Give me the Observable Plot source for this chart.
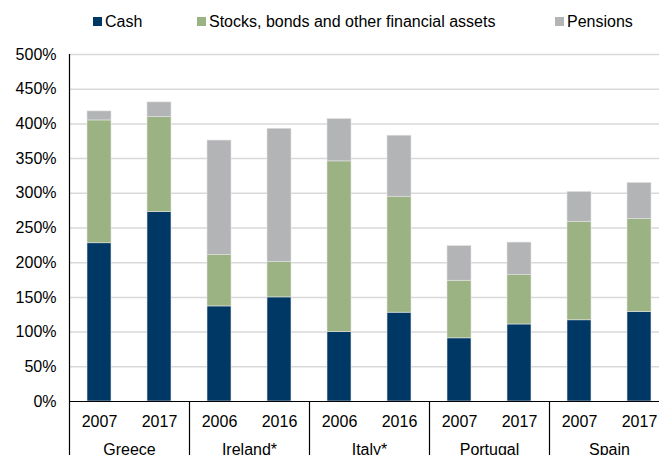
<!DOCTYPE html>
<html>
<head>
<meta charset="utf-8">
<script src="https://cdn.jsdelivr.net/npm/d3@7"></script>
<script src="https://cdn.jsdelivr.net/npm/@observablehq/plot@0.6"></script>
<style>
  html, body { margin: 0; padding: 0; background: #fff; overflow: hidden; }
  body { width: 659px; height: 455px; font-family: "Liberation Sans", Arial, sans-serif; }
  #legend { position: relative; height: 40px; font-size: 16px; color: #000; }
  .item { position: absolute; top: 13px; line-height: 18px; white-space: nowrap; }
  .sw { display: inline-block; width: 9px; height: 9px; margin-right: 3px; vertical-align: 1px; }
</style>
</head>
<body>
<div id="legend"></div>
<div id="chart"></div>
<script>
const countries = ["Greece", "Ireland*", "Italy*", "Portugal", "Spain"];
const years = [["2007", "2017"], ["2006", "2016"], ["2006", "2016"], ["2007", "2017"], ["2007", "2017"]];
const cash     = [228, 273, 137, 150, 100, 128, 91, 111, 117, 129];
const stocks   = [177, 137, 74, 51, 246, 167, 83, 71, 142, 134];
const pensions = [13, 21, 165, 192, 61, 88, 50, 47, 43, 52];
const seriesNames = ["Cash", "Stocks, bonds and other financial assets", "Pensions"];
const seriesColors = ["#003865", "#9bb282", "#b3b4b6"];
const yTicks = [0, 50, 100, 150, 200, 250, 300, 350, 400, 450, 500];

// Build table
const bars = [];
countries.forEach((c, i) => years[i].forEach((y, j) => bars.push({country: c, year: y, key: c + "|" + y, idx: i * 2 + j})));
const rows = [];
bars.forEach(b => {
  rows.push({...b, series: seriesNames[0], value: cash[b.idx]});
  rows.push({...b, series: seriesNames[1], value: stocks[b.idx]});
  rows.push({...b, series: seriesNames[2], value: pensions[b.idx]});
});
const firstKeys = bars.filter(b => b.idx % 2 === 0);

// Legend
const legendPos = [93, 197, 555];
const legend = document.getElementById("legend");
seriesNames.forEach((n, i) => {
  const d = document.createElement("div");
  d.className = "item";
  d.style.left = legendPos[i] + "px";
  d.innerHTML = `<span class="sw" style="background:${seriesColors[i]}"></span>${n}`;
  legend.appendChild(d);
});

const chart = Plot.plot({
  width: 659,
  height: 415,
  marginTop: 14,
  marginBottom: 54,
  marginLeft: 69,
  marginRight: 0,
  style: {fontFamily: "Liberation Sans, Arial, sans-serif", fontSize: "16px", color: "#000", background: "#fff"},
  x: {domain: bars.map(b => b.key), range: [69, 669], paddingInner: 0.6, paddingOuter: 0.3, axis: null, label: null},
  y: {domain: [0, 500], axis: null, label: null},
  color: {domain: seriesNames, range: seriesColors},
  marks: [
    Plot.ruleY(yTicks.slice(1), {stroke: "#d9d9d9", strokeWidth: 1.5}),
    Plot.barY(rows, Plot.stackY({x: "key", y: "value", fill: "series", order: seriesNames, stroke: "#e3e3e3", strokeWidth: 0.6})),
    Plot.axisY(yTicks, {tickSize: 0, tickPadding: 13, tickFormat: d => d + "%", fontSize: 16, label: null}),
    Plot.axisX(bars.map(b => b.key), {tickSize: 0, tickPadding: 14, tickFormat: k => k.split("|")[1], fontSize: 16, label: null}),
    Plot.ruleY([0], {stroke: "#000", strokeWidth: 1.2}),
    Plot.ruleX(firstKeys.slice(0, 1), {x: "key", dx: -30, stroke: "#000", strokeWidth: 1.2, insetBottom: -54}),
    Plot.ruleX(firstKeys.slice(1), {x: "key", dx: -30, stroke: "#000", strokeWidth: 1.2, insetTop: 347, insetBottom: -54}),
    Plot.text(firstKeys, {x: "key", y: d => 0, dx: 30, dy: 48, text: "country", fontSize: 16, textAnchor: "middle"})
  ]
});
document.getElementById("chart").appendChild(chart);
</script>
</body>
</html>
